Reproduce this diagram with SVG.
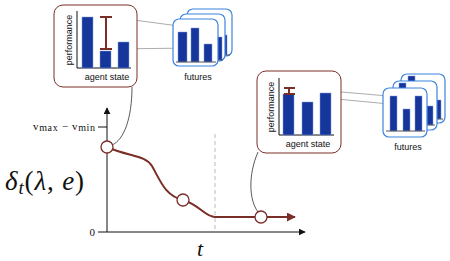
<svg xmlns="http://www.w3.org/2000/svg" width="450" height="261" viewBox="0 0 450 261">
<style>
.bar{fill:#17369b;stroke:#7d9de0;stroke-width:0.5}
.base{stroke:#555;stroke-width:1}
.abox{fill:#fff;stroke:#7a2e28;stroke-width:1}
.fbox{fill:#fff;stroke:#3d84e0;stroke-width:1.2}
.err{stroke:#7a2e28;stroke-width:2;fill:none}
.guide{stroke:#888;stroke-width:0.7;fill:none}
.conn{stroke:#111;stroke-width:0.7;fill:none}
.lbl{font-family:"Liberation Sans",Arial,sans-serif;font-size:9px;fill:#111}
.ser{font-family:"Liberation Serif","DejaVu Serif",serif;fill:#111}
.ax{stroke:#111;stroke-width:1;fill:none}
.pt{fill:#fff;stroke:#7a2e28;stroke-width:1.3}
</style>
<defs>
<marker id="blk" viewBox="0 0 10 10" refX="9" refY="5" markerWidth="7" markerHeight="7" markerUnits="userSpaceOnUse" orient="auto"><path d="M0,0 L10,5 L0,10 z" fill="#111"/></marker>
<marker id="red" viewBox="0 0 10 10" refX="9" refY="5" markerWidth="9" markerHeight="9" markerUnits="userSpaceOnUse" orient="auto"><path d="M0,0 L10,5 L0,10 z" fill="#7a2e28"/></marker>
</defs>

<g id="plot">
<line class="ax" x1="107" y1="232" x2="107" y2="108" marker-end="url(#blk)"/>
<line class="ax" x1="107" y1="232" x2="305" y2="232" marker-end="url(#blk)"/>
<line class="ax" x1="98" y1="127" x2="107" y2="127"/>
<line class="ax" x1="98" y1="232" x2="107" y2="232"/>
<line x1="215" y1="134" x2="215" y2="232" stroke="#bbb" stroke-width="1" stroke-dasharray="4,3"/>
<text class="ser" x="33" y="129.5" font-size="11" textLength="62" lengthAdjust="spacing">v<tspan font-size="10" dy="1.5">max</tspan><tspan dy="-1.5"> − v</tspan><tspan font-size="10" dy="1.5">min</tspan></text>
<text class="ser" x="95" y="236" text-anchor="end" font-size="11">0</text>
<text class="ser" x="5" y="190" font-size="27" textLength="79" lengthAdjust="spacing"><tspan font-style="italic">δ</tspan><tspan font-style="italic" font-size="19" dy="4">t</tspan><tspan dy="-4">(</tspan><tspan font-style="italic">λ</tspan>, <tspan font-style="italic">e</tspan>)</text>
<text class="ser" x="200" y="256" font-size="22" font-style="italic" text-anchor="middle">t</text>
</g>

<g id="connectors">
<path class="conn" d="M132,87 C132,118 124,140 112,145"/>
<path class="conn" d="M258,152 C248,175 249,200 258,212"/>
<path d="M107,147 C130,157 145,155 152,166 C160,180 165,196 183,200 C200,205 205,217 215,217 L295,217" stroke="#7a2e28" stroke-width="2" fill="none" marker-end="url(#red)"/>
<path class="guide" d="M111,17 L194,28"/>
<path class="guide" d="M111,49 L193,48"/>
<path class="guide" d="M295,88 L388,96"/>
<path class="guide" d="M295,95 L389,104"/>
</g>

<g id="curve-points">
<circle class="pt" cx="107" cy="147" r="6"/>
<circle class="pt" cx="183" cy="200" r="6"/>
<circle class="pt" cx="261" cy="217" r="6"/>
</g>

<g id="agent-state-1">
<rect class="abox" x="54" y="5" width="83" height="82" rx="9"/>
<line class="ax" x1="77" y1="11" x2="77" y2="68"/>
<line class="ax" x1="77" y1="68" x2="131" y2="68"/>
<rect class="bar" x="82" y="17" width="11" height="51"/>
<rect class="bar" x="100" y="51" width="11" height="17"/>
<rect class="bar" x="118" y="42" width="11" height="26"/>
<path class="err" d="M106,17 L106,49 M100,17 L112,17 M100,49 L112,49"/>
<text class="lbl" transform="translate(71.5,40) rotate(-90)" text-anchor="middle">performance</text>
<text class="lbl" x="107" y="80" text-anchor="middle">agent state</text>
</g>

<g id="futures-1">
<rect class="fbox" x="187" y="9" width="45" height="47" rx="6"/>
<rect class="bar" x="224" y="35" width="3" height="20"/>
<line class="base" x1="222" y1="55" x2="230" y2="55"/>
<rect class="fbox" x="180" y="14" width="45" height="47" rx="6"/>
<rect class="bar" x="217" y="37" width="5" height="23"/>
<line class="base" x1="216" y1="60" x2="223" y2="60"/>
<rect class="fbox" x="173" y="19" width="45" height="47" rx="6"/>
<rect class="bar" x="178" y="32" width="9" height="30"/>
<rect class="bar" x="191" y="28" width="8" height="34"/>
<rect class="bar" x="204" y="44" width="8" height="18"/>
<line class="base" x1="176" y1="62" x2="216" y2="62"/>
<text class="lbl" x="198" y="80" text-anchor="middle">futures</text>
</g>

<g id="agent-state-2">
<rect class="abox" x="257" y="71" width="84" height="82" rx="9"/>
<line class="ax" x1="279" y1="78" x2="279" y2="135"/>
<line class="ax" x1="279" y1="135" x2="334" y2="135"/>
<rect class="bar" x="283" y="94" width="11" height="41"/>
<rect class="bar" x="302" y="102" width="11" height="33"/>
<rect class="bar" x="320" y="93" width="11" height="42"/>
<path class="err" d="M289,88 L289,94 M284,88 L295,88 M284,94 L295,94"/>
<text class="lbl" transform="translate(273.5,107) rotate(-90)" text-anchor="middle">performance</text>
<text class="lbl" x="308" y="147" text-anchor="middle">agent state</text>
</g>

<g id="futures-2">
<rect class="fbox" x="401" y="74" width="44" height="49" rx="6"/>
<rect class="bar" x="408" y="76" width="7" height="43"/>
<rect class="bar" x="436" y="100" width="5" height="19"/>
<line class="base" x1="434" y1="119" x2="443" y2="119"/>
<rect class="fbox" x="393" y="81" width="44" height="49" rx="6"/>
<rect class="bar" x="399" y="83" width="7" height="42"/>
<rect class="bar" x="427" y="106" width="6" height="19"/>
<line class="base" x1="426" y1="125" x2="435" y2="125"/>
<rect class="fbox" x="383" y="88" width="44" height="49" rx="6"/>
<rect class="bar" x="390" y="96" width="7" height="35"/>
<rect class="bar" x="403" y="109" width="7" height="22"/>
<rect class="bar" x="415" y="96" width="7" height="35"/>
<line class="base" x1="386" y1="131" x2="425" y2="131"/>
<text class="lbl" x="408" y="150" text-anchor="middle">futures</text>
</g>
</svg>
